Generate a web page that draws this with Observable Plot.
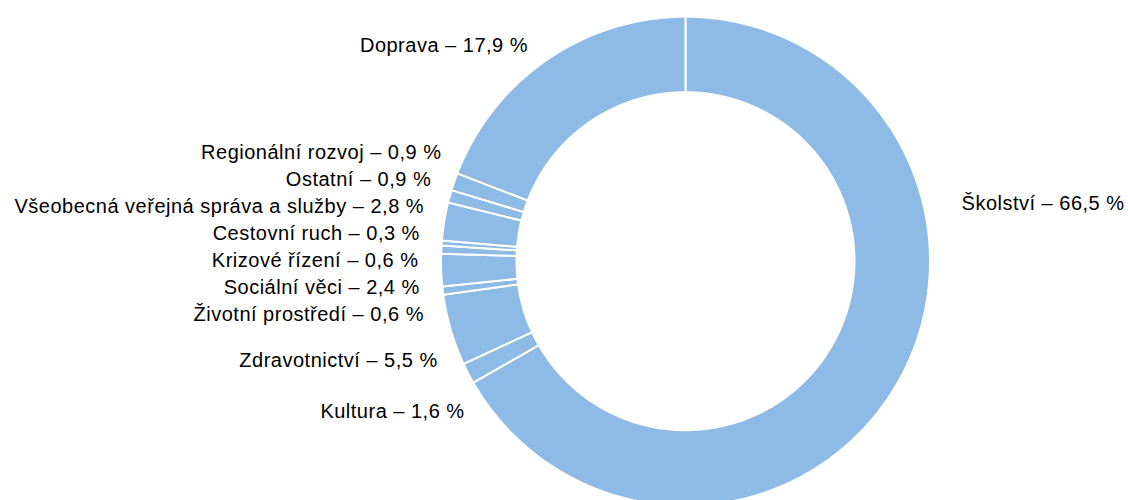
<!DOCTYPE html>
<html>
<head>
<meta charset="utf-8">
<script src="https://cdn.jsdelivr.net/npm/d3@7"></script>
<script src="https://cdn.jsdelivr.net/npm/@observablehq/plot@0.6"></script>
<style>
  html, body { margin: 0; padding: 0; background: #fff; }
  #chart svg { display: block; }
  #chart svg text { letter-spacing: 0.5px; }
</style>
</head>
<body>
<div id="chart"></div>
<script>
// ---- data (order: clockwise from 12 o'clock) ----
const categories = [
  "Školství", "Kultura", "Zdravotnictví", "Životní prostředí", "Sociální věci",
  "Krizové řízení", "Cestovní ruch", "Všeobecná veřejná správa a služby",
  "Ostatní", "Regionální rozvoj", "Doprava"
];
// percentages printed in the labels
const labelPercent = [66.5, 1.6, 5.5, 0.6, 2.4, 0.6, 0.3, 2.8, 0.9, 0.9, 17.9];
// slice sizes as they are drawn in the picture (share of the ring, %)
const sliceShare = [66.74, 1.38, 4.71, 0.53, 2.14, 0.54, 0.33, 2.51, 0.83, 1.15, 19.16];

// ---- layout ----
const W = 1128, H = 500;
const cx = 685, cy = 260.7;          // ring centre (px)
const outerR = 244.5, innerR = 169;  // ring radii (px)
const labelR = 285, labelShift = 19.3, labelGap = 27, labelXR = 267;
const rightLabelR = 282, rightLabelAngle = 78.2; // degrees clockwise from top
const sliceColor = "#8ebbe6";

const slices = categories.map((name, i) => ({name, share: sliceShare[i], pct: labelPercent[i]}));
const arcs = d3.pie().sort(null).value(d => d.share)(slices);

// ring polygons, in px relative to the centre (y grows downward)
const ring = [];
for (const a of arcs) {
  const n = Math.max(2, Math.ceil((a.endAngle - a.startAngle) / (Math.PI / 720)));
  for (let i = 0; i <= n; i++) {
    const t = a.startAngle + (a.endAngle - a.startAngle) * i / n;
    ring.push({name: a.data.name, x: outerR * Math.sin(t), y: -outerR * Math.cos(t)});
  }
  for (let i = n; i >= 0; i--) {
    const t = a.startAngle + (a.endAngle - a.startAngle) * i / n;
    ring.push({name: a.data.name, x: innerR * Math.sin(t), y: -innerR * Math.cos(t)});
  }
}

// labels
const fmt = p => p.toFixed(1).replace(".", ",") + "\u00a0%";
const labels = arcs.map(a => {
  const mid = (a.startAngle + a.endAngle) / 2;
  return {
    text: `${a.data.name} – ${fmt(a.data.pct)}`,
    left: mid > Math.PI,
    natural: labelShift - labelR * Math.cos(mid)
  };
});
const left = labels.filter(d => d.left).sort((a, b) => b.natural - a.natural);
let prev = Infinity;
for (const d of left) {
  d.y = Math.min(d.natural, prev - labelGap);
  prev = d.y;
  d.x = -Math.sqrt(Math.max(0, labelXR * labelXR - d.y * d.y));
}
const right = labels.filter(d => !d.left);
for (const d of right) {
  const t = rightLabelAngle * Math.PI / 180;
  d.x = rightLabelR * Math.sin(t);
  d.y = -rightLabelR * Math.cos(t);
}

const chart = Plot.plot({
  width: W,
  height: H,
  margin: 0,
  x: {domain: [-cx, W - cx], range: [0, W], axis: null},
  y: {domain: [-cy, H - cy], range: [0, H], axis: null},
  style: {fontFamily: "'Liberation Sans', Arial, sans-serif", background: "#fff"},
  marks: [
    Plot.line(ring, {x: "x", y: "y", z: "name", fill: sliceColor, stroke: "#fff",
      strokeWidth: 2, strokeOpacity: 1, curve: "linear-closed", strokeLinejoin: "miter"}),
    Plot.text(left, {x: "x", y: "y", text: "text", textAnchor: "end", fontSize: 20, fill: "#000"}),
    Plot.text(right, {x: "x", y: "y", text: "text", textAnchor: "start", fontSize: 20, fill: "#000"})
  ]
});
document.getElementById("chart").appendChild(chart);
</script>
</body>
</html>
